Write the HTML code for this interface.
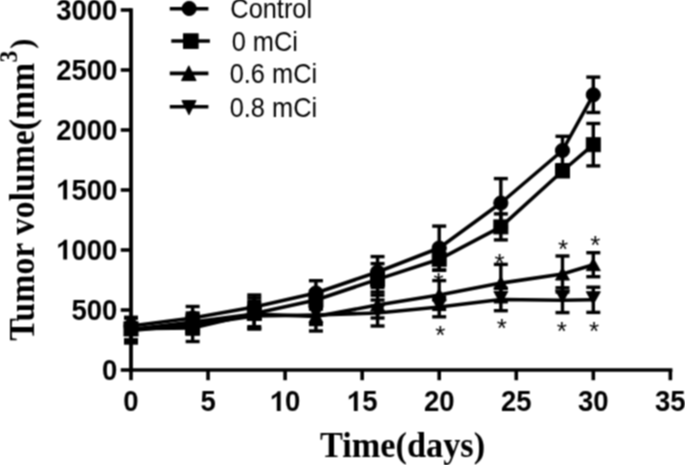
<!DOCTYPE html>
<html><head><meta charset="utf-8"><style>
html,body{margin:0;padding:0;background:#fff;}
body{width:685px;height:465px;overflow:hidden;}
svg{display:block;}
.tl{font-family:"Liberation Sans",sans-serif;font-weight:bold;font-size:27.5px;}
.lt{font-family:"Liberation Sans",sans-serif;font-size:25.4px;}
.ast{font-family:"Liberation Sans",sans-serif;font-size:26px;}
.ttl{font-family:"Liberation Serif",serif;font-weight:bold;font-size:34.3px;}
</style></head><body>
<svg width="685" height="465" viewBox="0 0 685 465">
<defs><filter id="bl" x="0" y="0" width="685" height="465" filterUnits="userSpaceOnUse" color-interpolation-filters="sRGB"><feConvolveMatrix order="3" kernelMatrix="0.0625 0.1250 0.0625 0.1250 0.2500 0.1250 0.0625 0.1250 0.0625" divisor="1" edgeMode="none"/></filter></defs>
<rect width="685" height="465" fill="#fff"/>
<g filter="url(#bl)">
<g stroke="#000" fill="#000" stroke-linecap="butt">
<line x1="131" y1="8.2" x2="131" y2="371.8" stroke-width="3.8" stroke-linecap="butt"/>
<line x1="129.1" y1="370" x2="672.4" y2="370" stroke-width="3.6"/>
<line x1="120.75" y1="370" x2="131" y2="370" stroke-width="3.6"/>
<line x1="120.75" y1="310" x2="131" y2="310" stroke-width="3.6"/>
<line x1="120.75" y1="250" x2="131" y2="250" stroke-width="3.6"/>
<line x1="120.75" y1="190" x2="131" y2="190" stroke-width="3.6"/>
<line x1="120.75" y1="130" x2="131" y2="130" stroke-width="3.6"/>
<line x1="120.75" y1="70" x2="131" y2="70" stroke-width="3.6"/>
<line x1="120.75" y1="10" x2="131" y2="10" stroke-width="3.6"/>
<line x1="131.00" y1="370" x2="131.00" y2="380.2" stroke-width="3.6"/>
<line x1="208.05" y1="370" x2="208.05" y2="380.2" stroke-width="3.6"/>
<line x1="285.10" y1="370" x2="285.10" y2="380.2" stroke-width="3.6"/>
<line x1="362.15" y1="370" x2="362.15" y2="380.2" stroke-width="3.6"/>
<line x1="439.20" y1="370" x2="439.20" y2="380.2" stroke-width="3.6"/>
<line x1="516.25" y1="370" x2="516.25" y2="380.2" stroke-width="3.6"/>
<line x1="593.30" y1="370" x2="593.30" y2="380.2" stroke-width="3.6"/>
<line x1="670.35" y1="370" x2="670.35" y2="380.2" stroke-width="3.6"/>
<line x1="131.00" y1="317.40" x2="131.00" y2="334.60" stroke-width="3.4"/>
<line x1="124.00" y1="317.40" x2="138.00" y2="317.40" stroke-width="3.4"/>
<line x1="124.00" y1="334.60" x2="138.00" y2="334.60" stroke-width="3.4"/>
<line x1="192.64" y1="306.50" x2="192.64" y2="329.50" stroke-width="3.4"/>
<line x1="185.64" y1="306.50" x2="199.64" y2="306.50" stroke-width="3.4"/>
<line x1="185.64" y1="329.50" x2="199.64" y2="329.50" stroke-width="3.4"/>
<line x1="254.28" y1="295.00" x2="254.28" y2="319.00" stroke-width="3.4"/>
<line x1="247.28" y1="295.00" x2="261.28" y2="295.00" stroke-width="3.4"/>
<line x1="247.28" y1="319.00" x2="261.28" y2="319.00" stroke-width="3.4"/>
<line x1="315.92" y1="280.70" x2="315.92" y2="305.30" stroke-width="3.4"/>
<line x1="308.92" y1="280.70" x2="322.92" y2="280.70" stroke-width="3.4"/>
<line x1="308.92" y1="305.30" x2="322.92" y2="305.30" stroke-width="3.4"/>
<line x1="377.56" y1="256.60" x2="377.56" y2="287.40" stroke-width="3.4"/>
<line x1="370.56" y1="256.60" x2="384.56" y2="256.60" stroke-width="3.4"/>
<line x1="370.56" y1="287.40" x2="384.56" y2="287.40" stroke-width="3.4"/>
<line x1="439.20" y1="226.10" x2="439.20" y2="269.90" stroke-width="3.4"/>
<line x1="432.20" y1="226.10" x2="446.20" y2="226.10" stroke-width="3.4"/>
<line x1="432.20" y1="269.90" x2="446.20" y2="269.90" stroke-width="3.4"/>
<line x1="500.84" y1="178.60" x2="500.84" y2="227.40" stroke-width="3.4"/>
<line x1="493.84" y1="178.60" x2="507.84" y2="178.60" stroke-width="3.4"/>
<line x1="493.84" y1="227.40" x2="507.84" y2="227.40" stroke-width="3.4"/>
<line x1="562.48" y1="136.30" x2="562.48" y2="164.70" stroke-width="3.4"/>
<line x1="555.48" y1="136.30" x2="569.48" y2="136.30" stroke-width="3.4"/>
<line x1="555.48" y1="164.70" x2="569.48" y2="164.70" stroke-width="3.4"/>
<line x1="593.30" y1="77.10" x2="593.30" y2="112.50" stroke-width="3.4"/>
<line x1="586.30" y1="77.10" x2="600.30" y2="77.10" stroke-width="3.4"/>
<line x1="586.30" y1="112.50" x2="600.30" y2="112.50" stroke-width="3.4"/>
<line x1="131.00" y1="317.80" x2="131.00" y2="339.80" stroke-width="3.4"/>
<line x1="124.00" y1="317.80" x2="138.00" y2="317.80" stroke-width="3.4"/>
<line x1="124.00" y1="339.80" x2="138.00" y2="339.80" stroke-width="3.4"/>
<line x1="192.64" y1="314.50" x2="192.64" y2="341.50" stroke-width="3.4"/>
<line x1="185.64" y1="314.50" x2="199.64" y2="314.50" stroke-width="3.4"/>
<line x1="185.64" y1="341.50" x2="199.64" y2="341.50" stroke-width="3.4"/>
<line x1="254.28" y1="298.00" x2="254.28" y2="329.00" stroke-width="3.4"/>
<line x1="247.28" y1="298.00" x2="261.28" y2="298.00" stroke-width="3.4"/>
<line x1="247.28" y1="329.00" x2="261.28" y2="329.00" stroke-width="3.4"/>
<line x1="315.92" y1="291.00" x2="315.92" y2="309.00" stroke-width="3.4"/>
<line x1="308.92" y1="291.00" x2="322.92" y2="291.00" stroke-width="3.4"/>
<line x1="308.92" y1="309.00" x2="322.92" y2="309.00" stroke-width="3.4"/>
<line x1="377.56" y1="263.60" x2="377.56" y2="295.20" stroke-width="3.4"/>
<line x1="370.56" y1="263.60" x2="384.56" y2="263.60" stroke-width="3.4"/>
<line x1="370.56" y1="295.20" x2="384.56" y2="295.20" stroke-width="3.4"/>
<line x1="439.20" y1="248.30" x2="439.20" y2="270.30" stroke-width="3.4"/>
<line x1="432.20" y1="248.30" x2="446.20" y2="248.30" stroke-width="3.4"/>
<line x1="432.20" y1="270.30" x2="446.20" y2="270.30" stroke-width="3.4"/>
<line x1="500.84" y1="213.90" x2="500.84" y2="239.90" stroke-width="3.4"/>
<line x1="493.84" y1="213.90" x2="507.84" y2="213.90" stroke-width="3.4"/>
<line x1="493.84" y1="239.90" x2="507.84" y2="239.90" stroke-width="3.4"/>
<line x1="562.48" y1="166.00" x2="562.48" y2="176.00" stroke-width="3.4"/>
<line x1="555.48" y1="166.00" x2="569.48" y2="166.00" stroke-width="3.4"/>
<line x1="555.48" y1="176.00" x2="569.48" y2="176.00" stroke-width="3.4"/>
<line x1="593.30" y1="123.50" x2="593.30" y2="165.90" stroke-width="3.4"/>
<line x1="586.30" y1="123.50" x2="600.30" y2="123.50" stroke-width="3.4"/>
<line x1="586.30" y1="165.90" x2="600.30" y2="165.90" stroke-width="3.4"/>
<line x1="131.00" y1="317.50" x2="131.00" y2="341.50" stroke-width="3.4"/>
<line x1="124.00" y1="317.50" x2="138.00" y2="317.50" stroke-width="3.4"/>
<line x1="124.00" y1="341.50" x2="138.00" y2="341.50" stroke-width="3.4"/>
<line x1="192.64" y1="313.00" x2="192.64" y2="331.00" stroke-width="3.4"/>
<line x1="185.64" y1="313.00" x2="199.64" y2="313.00" stroke-width="3.4"/>
<line x1="185.64" y1="331.00" x2="199.64" y2="331.00" stroke-width="3.4"/>
<line x1="254.28" y1="301.30" x2="254.28" y2="326.70" stroke-width="3.4"/>
<line x1="247.28" y1="301.30" x2="261.28" y2="301.30" stroke-width="3.4"/>
<line x1="247.28" y1="326.70" x2="261.28" y2="326.70" stroke-width="3.4"/>
<line x1="315.92" y1="308.50" x2="315.92" y2="324.50" stroke-width="3.4"/>
<line x1="308.92" y1="308.50" x2="322.92" y2="308.50" stroke-width="3.4"/>
<line x1="308.92" y1="324.50" x2="322.92" y2="324.50" stroke-width="3.4"/>
<line x1="377.56" y1="292.00" x2="377.56" y2="318.00" stroke-width="3.4"/>
<line x1="370.56" y1="292.00" x2="384.56" y2="292.00" stroke-width="3.4"/>
<line x1="370.56" y1="318.00" x2="384.56" y2="318.00" stroke-width="3.4"/>
<line x1="439.20" y1="280.60" x2="439.20" y2="309.40" stroke-width="3.4"/>
<line x1="432.20" y1="280.60" x2="446.20" y2="280.60" stroke-width="3.4"/>
<line x1="432.20" y1="309.40" x2="446.20" y2="309.40" stroke-width="3.4"/>
<line x1="500.84" y1="264.40" x2="500.84" y2="301.80" stroke-width="3.4"/>
<line x1="493.84" y1="264.40" x2="507.84" y2="264.40" stroke-width="3.4"/>
<line x1="493.84" y1="301.80" x2="507.84" y2="301.80" stroke-width="3.4"/>
<line x1="562.48" y1="256.00" x2="562.48" y2="292.00" stroke-width="3.4"/>
<line x1="555.48" y1="256.00" x2="569.48" y2="256.00" stroke-width="3.4"/>
<line x1="555.48" y1="292.00" x2="569.48" y2="292.00" stroke-width="3.4"/>
<line x1="593.30" y1="252.70" x2="593.30" y2="276.70" stroke-width="3.4"/>
<line x1="586.30" y1="252.70" x2="600.30" y2="252.70" stroke-width="3.4"/>
<line x1="586.30" y1="276.70" x2="600.30" y2="276.70" stroke-width="3.4"/>
<line x1="131.00" y1="318.00" x2="131.00" y2="343.00" stroke-width="3.4"/>
<line x1="124.00" y1="318.00" x2="138.00" y2="318.00" stroke-width="3.4"/>
<line x1="124.00" y1="343.00" x2="138.00" y2="343.00" stroke-width="3.4"/>
<line x1="192.64" y1="316.00" x2="192.64" y2="334.00" stroke-width="3.4"/>
<line x1="185.64" y1="316.00" x2="199.64" y2="316.00" stroke-width="3.4"/>
<line x1="185.64" y1="334.00" x2="199.64" y2="334.00" stroke-width="3.4"/>
<line x1="254.28" y1="303.50" x2="254.28" y2="328.50" stroke-width="3.4"/>
<line x1="247.28" y1="303.50" x2="261.28" y2="303.50" stroke-width="3.4"/>
<line x1="247.28" y1="328.50" x2="261.28" y2="328.50" stroke-width="3.4"/>
<line x1="315.92" y1="299.00" x2="315.92" y2="331.00" stroke-width="3.4"/>
<line x1="308.92" y1="299.00" x2="322.92" y2="299.00" stroke-width="3.4"/>
<line x1="308.92" y1="331.00" x2="322.92" y2="331.00" stroke-width="3.4"/>
<line x1="377.56" y1="300.00" x2="377.56" y2="326.00" stroke-width="3.4"/>
<line x1="370.56" y1="300.00" x2="384.56" y2="300.00" stroke-width="3.4"/>
<line x1="370.56" y1="326.00" x2="384.56" y2="326.00" stroke-width="3.4"/>
<line x1="439.20" y1="297.20" x2="439.20" y2="316.80" stroke-width="3.4"/>
<line x1="432.20" y1="297.20" x2="446.20" y2="297.20" stroke-width="3.4"/>
<line x1="432.20" y1="316.80" x2="446.20" y2="316.80" stroke-width="3.4"/>
<line x1="500.84" y1="288.30" x2="500.84" y2="310.70" stroke-width="3.4"/>
<line x1="493.84" y1="288.30" x2="507.84" y2="288.30" stroke-width="3.4"/>
<line x1="493.84" y1="310.70" x2="507.84" y2="310.70" stroke-width="3.4"/>
<line x1="562.48" y1="287.80" x2="562.48" y2="312.60" stroke-width="3.4"/>
<line x1="555.48" y1="287.80" x2="569.48" y2="287.80" stroke-width="3.4"/>
<line x1="555.48" y1="312.60" x2="569.48" y2="312.60" stroke-width="3.4"/>
<line x1="593.30" y1="287.20" x2="593.30" y2="312.40" stroke-width="3.4"/>
<line x1="586.30" y1="287.20" x2="600.30" y2="287.20" stroke-width="3.4"/>
<line x1="586.30" y1="312.40" x2="600.30" y2="312.40" stroke-width="3.4"/>
<polyline points="131.00,326.00 192.64,318.00 254.28,307.00 315.92,293.00 377.56,272.00 439.20,248.00 500.84,203.00 562.48,150.50 593.30,94.80" fill="none" stroke-width="3.6" stroke-linejoin="round"/>
<polyline points="131.00,328.80 192.64,328.00 254.28,313.50 315.92,300.00 377.56,279.40 439.20,259.30 500.84,226.90 562.48,171.00 593.30,144.70" fill="none" stroke-width="3.6" stroke-linejoin="round"/>
<polyline points="131.00,329.50 192.64,322.00 254.28,314.00 315.92,316.50 377.56,305.00 439.20,295.00 500.84,283.10 562.48,274.00 593.30,264.70" fill="none" stroke-width="3.6" stroke-linejoin="round"/>
<polyline points="131.00,330.50 192.64,325.00 254.28,316.00 315.92,315.00 377.56,313.00 439.20,307.00 500.84,299.50 562.48,300.20 593.30,299.80" fill="none" stroke-width="3.6" stroke-linejoin="round"/>
<circle cx="131.00" cy="326.00" r="7.1"/>
<circle cx="192.64" cy="318.00" r="7.1"/>
<circle cx="254.28" cy="307.00" r="7.1"/>
<circle cx="315.92" cy="293.00" r="7.1"/>
<circle cx="377.56" cy="272.00" r="7.1"/>
<circle cx="439.20" cy="248.00" r="7.1"/>
<circle cx="500.84" cy="203.00" r="7.1"/>
<circle cx="562.48" cy="150.50" r="7.1"/>
<circle cx="593.30" cy="94.80" r="7.1"/>
<rect x="124.00" y="321.80" width="14" height="14"/>
<rect x="185.64" y="321.00" width="14" height="14"/>
<rect x="247.28" y="306.50" width="14" height="14"/>
<rect x="308.92" y="293.00" width="14" height="14"/>
<rect x="370.56" y="272.40" width="14" height="14"/>
<rect x="432.20" y="252.30" width="14" height="14"/>
<rect x="493.84" y="219.90" width="14" height="14"/>
<rect x="555.48" y="164.00" width="14" height="14"/>
<rect x="586.30" y="137.70" width="14" height="14"/>
<polygon points="131.00,323.00 138.00,335.50 124.00,335.50"/>
<polygon points="192.64,315.50 199.64,328.00 185.64,328.00"/>
<polygon points="254.28,307.50 261.28,320.00 247.28,320.00"/>
<polygon points="315.92,310.00 322.92,322.50 308.92,322.50"/>
<polygon points="377.56,298.50 384.56,311.00 370.56,311.00"/>
<polygon points="439.20,288.50 446.20,301.00 432.20,301.00"/>
<polygon points="500.84,276.60 507.84,289.10 493.84,289.10"/>
<polygon points="562.48,267.50 569.48,280.00 555.48,280.00"/>
<polygon points="593.30,258.20 600.30,270.70 586.30,270.70"/>
<polygon points="124.00,322.45 138.00,322.45 131.00,334.95"/>
<polygon points="185.64,316.95 199.64,316.95 192.64,329.45"/>
<polygon points="247.28,307.95 261.28,307.95 254.28,320.45"/>
<polygon points="308.92,306.95 322.92,306.95 315.92,319.45"/>
<polygon points="370.56,304.95 384.56,304.95 377.56,317.45"/>
<polygon points="432.20,298.95 446.20,298.95 439.20,311.45"/>
<polygon points="493.84,291.45 507.84,291.45 500.84,303.95"/>
<polygon points="555.48,290.15 569.48,290.15 562.48,302.65"/>
<polygon points="586.30,291.75 600.30,291.75 593.30,304.25"/>
</g>
<g fill="#000" class="tl">
<g transform="translate(117.40,379.60) scale(1,1.06)"><text x="-15.29" y="0">0</text></g>
<g transform="translate(117.40,319.60) scale(1,1.06)"><text x="-45.87" y="0">5</text><text x="-30.58" y="0">0</text><text x="-15.29" y="0">0</text></g>
<g transform="translate(117.40,259.60) scale(1,1.06)"><path d="M-50.30 0.00 L-54.15 0.00 L-54.15 -14.16 C-55.66 -12.71 -57.31 -11.69 -59.18 -10.95 L-59.18 -14.30 C-56.76 -15.18 -54.29 -16.50 -53.13 -18.70 L-50.30 -18.70 Z"/><text x="-45.87" y="0">0</text><text x="-30.58" y="0">0</text><text x="-15.29" y="0">0</text></g>
<g transform="translate(117.40,199.60) scale(1,1.06)"><path d="M-50.30 0.00 L-54.15 0.00 L-54.15 -14.16 C-55.66 -12.71 -57.31 -11.69 -59.18 -10.95 L-59.18 -14.30 C-56.76 -15.18 -54.29 -16.50 -53.13 -18.70 L-50.30 -18.70 Z"/><text x="-45.87" y="0">5</text><text x="-30.58" y="0">0</text><text x="-15.29" y="0">0</text></g>
<g transform="translate(117.40,139.60) scale(1,1.06)"><text x="-61.16" y="0">2</text><text x="-45.87" y="0">0</text><text x="-30.58" y="0">0</text><text x="-15.29" y="0">0</text></g>
<g transform="translate(117.40,79.60) scale(1,1.06)"><text x="-61.16" y="0">2</text><text x="-45.87" y="0">5</text><text x="-30.58" y="0">0</text><text x="-15.29" y="0">0</text></g>
<g transform="translate(117.40,19.60) scale(1,1.06)"><text x="-61.16" y="0">3</text><text x="-45.87" y="0">0</text><text x="-30.58" y="0">0</text><text x="-15.29" y="0">0</text></g>
<g transform="translate(131.00,411.10) scale(1,1.06)"><text x="-7.65" y="0">0</text></g>
<g transform="translate(208.05,411.10) scale(1,1.06)"><text x="-7.65" y="0">5</text></g>
<g transform="translate(285.10,411.10) scale(1,1.06)"><path d="M-4.43 0.00 L-8.28 0.00 L-8.28 -14.16 C-9.79 -12.71 -11.44 -11.69 -13.31 -10.95 L-13.31 -14.30 C-10.89 -15.18 -8.42 -16.50 -7.26 -18.70 L-4.43 -18.70 Z"/><text x="0.00" y="0">0</text></g>
<g transform="translate(362.15,411.10) scale(1,1.06)"><path d="M-4.43 0.00 L-8.28 0.00 L-8.28 -14.16 C-9.79 -12.71 -11.44 -11.69 -13.31 -10.95 L-13.31 -14.30 C-10.89 -15.18 -8.42 -16.50 -7.26 -18.70 L-4.43 -18.70 Z"/><text x="0.00" y="0">5</text></g>
<g transform="translate(439.20,411.10) scale(1,1.06)"><text x="-15.29" y="0">2</text><text x="0.00" y="0">0</text></g>
<g transform="translate(516.25,411.10) scale(1,1.06)"><text x="-15.29" y="0">2</text><text x="0.00" y="0">5</text></g>
<g transform="translate(593.30,411.10) scale(1,1.06)"><text x="-15.29" y="0">3</text><text x="0.00" y="0">0</text></g>
<g transform="translate(670.35,411.10) scale(1,1.06)"><text x="-15.29" y="0">3</text><text x="0.00" y="0">5</text></g>
</g>
<g fill="#000" class="ast">
<text x="438.5" y="291.4" text-anchor="middle">*</text>
<text x="440.3" y="343.5" text-anchor="middle">*</text>
<text x="499.6" y="271.6" text-anchor="middle">*</text>
<text x="501.8" y="337.1" text-anchor="middle">*</text>
<text x="563.1" y="258.2" text-anchor="middle">*</text>
<text x="561.9" y="339.8" text-anchor="middle">*</text>
<text x="595.2" y="253.8" text-anchor="middle">*</text>
<text x="594.1" y="339.8" text-anchor="middle">*</text>
</g>
<g stroke="#000" fill="#000">
<line x1="169.8" y1="8.7" x2="208.4" y2="8.7" stroke-width="3.6"/>
<circle cx="189.2" cy="8.5" r="7.1"/>
<line x1="171.3" y1="41" x2="209.9" y2="41" stroke-width="3.6"/>
<rect x="183.5" y="33.800000000000004" width="14.6" height="14.6"/>
<line x1="169.8" y1="73.4" x2="208.4" y2="73.4" stroke-width="3.6"/>
<polygon points="188.8,65.8 196.10000000000002,80.60000000000001 181.5,80.60000000000001"/>
<line x1="169.8" y1="106.8" x2="208.4" y2="106.8" stroke-width="3.6"/>
<polygon points="181.9,100.60000000000001 196.1,100.60000000000001 189,114.8"/>
</g>
<g fill="#000">
<text transform="translate(230.3,17.5) scale(1,1.065)" class="lt">Control</text>
<text transform="translate(231.7,51.1) scale(1,1.065)" class="lt">0 mCi</text>
<text transform="translate(229.7,83.2) scale(1,1.065)" class="lt">0.6 mCi</text>
<text transform="translate(229.7,116.8) scale(1,1.065)" class="lt">0.8 mCi</text>
</g>
<text class="ttl" transform="translate(320,456.6) scale(1,1.07)" fill="#000">Time(days)</text>
<text class="ttl" style="font-size:33.7px" transform="translate(33.8,340.8) rotate(-90) scale(1,1.085)" fill="#000">Tumor volume(mm<tspan dy="-15.5" dx="0.3" font-size="23.5px">3</tspan><tspan dy="13.4" dx="2.1" font-size="30px">)</tspan></text>
</g>
</svg>
</body></html>
